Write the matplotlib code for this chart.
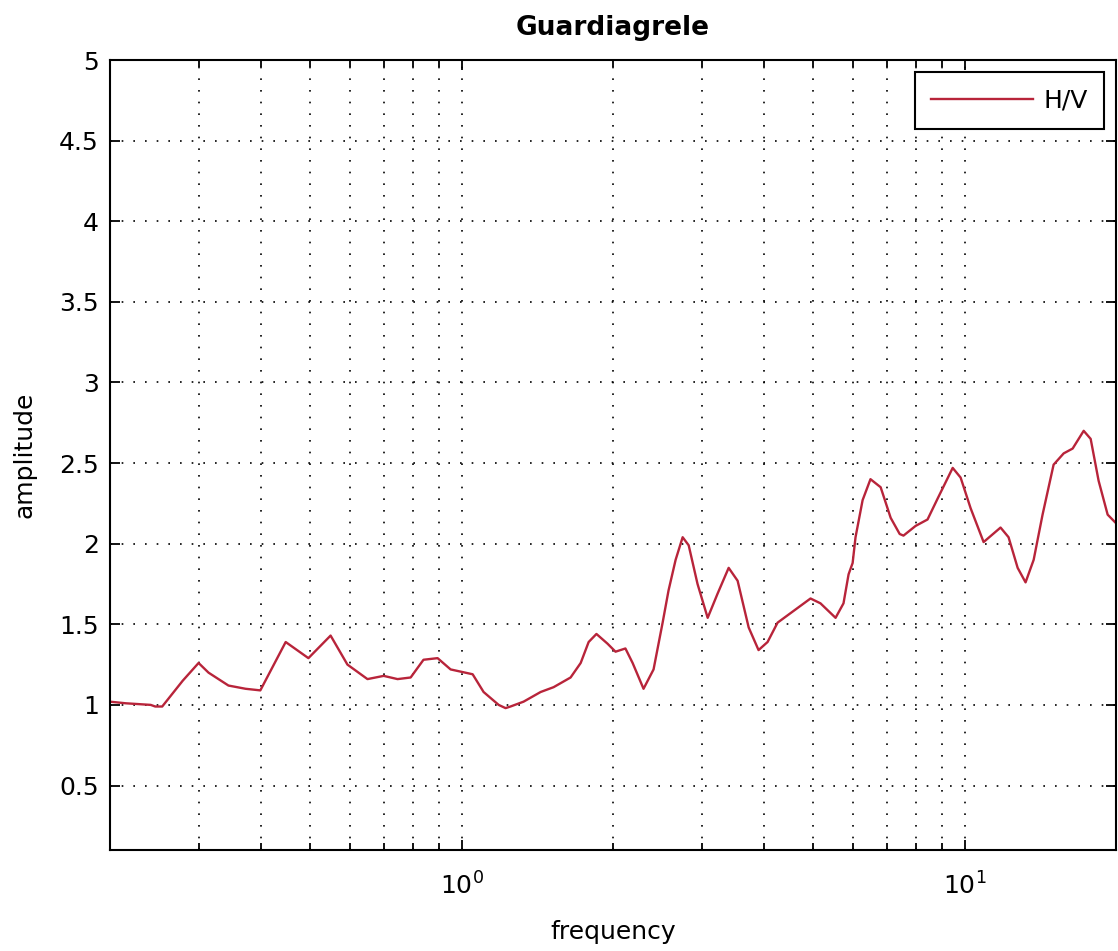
import matplotlib
matplotlib.use("Agg")
import matplotlib.pyplot as plt
from matplotlib.ticker import LogLocator, NullFormatter, MultipleLocator

fam = "DejaVu Sans"
plt.rcParams["font.family"] = [fam]
plt.rcParams["mathtext.fontset"] = "dejavusans"
plt.rcParams["mathtext.default"] = "regular"

title = "Guardiagrele"
xlabel = "frequency"
ylabel = "amplitude"
legend_label = "H/V"

freq = [0.200, 0.215, 0.241, 0.246, 0.254, 0.279, 0.300, 0.314, 0.344, 0.372,
        0.398, 0.447, 0.496, 0.549, 0.593, 0.650, 0.700, 0.746, 0.792, 0.840,
        0.896, 0.951, 1.052, 1.106, 1.185, 1.223, 1.251, 1.328, 1.436, 1.524,
        1.647, 1.725, 1.789, 1.854, 1.950, 2.023, 2.117, 2.188, 2.300, 2.408,
        2.510, 2.579, 2.664, 2.751, 2.828, 2.945, 3.085, 3.228, 3.396, 3.538,
        3.722, 3.894, 4.058, 4.248, 4.467, 4.94, 5.17, 5.54, 5.745, 5.88,
        5.99, 6.07, 6.27, 6.50, 6.81, 7.13, 7.43, 7.56, 7.99, 8.44,
        8.84, 9.47, 9.82, 10.28, 10.91, 11.79, 12.23, 12.75, 13.22, 13.72,
        14.29, 15.03, 15.74, 16.40, 17.25, 17.81, 18.47, 19.25, 19.96]
amp = [1.02, 1.01, 1.00, 0.99, 0.99, 1.15, 1.26, 1.20, 1.12, 1.10,
       1.09, 1.39, 1.29, 1.43, 1.25, 1.16, 1.18, 1.16, 1.17, 1.28,
       1.29, 1.22, 1.19, 1.08, 1.00, 0.98, 0.99, 1.02, 1.08, 1.11,
       1.17, 1.26, 1.39, 1.44, 1.38, 1.33, 1.35, 1.26, 1.10, 1.22,
       1.51, 1.71, 1.90, 2.04, 1.99, 1.75, 1.54, 1.69, 1.85, 1.77,
       1.48, 1.34, 1.39, 1.51, 1.56, 1.66, 1.63, 1.54, 1.63, 1.81,
       1.88, 2.04, 2.27, 2.40, 2.35, 2.16, 2.06, 2.05, 2.11, 2.15,
       2.28, 2.47, 2.41, 2.22, 2.01, 2.10, 2.04, 1.85, 1.76, 1.90,
       2.18, 2.49, 2.56, 2.59, 2.70, 2.65, 2.39, 2.18, 2.13]

fig = plt.figure(figsize=(11.18, 9.51), dpi=100)
ax = fig.add_axes([110/1118, 101/951, 1006/1118, 790/951])

ax.plot(freq, amp, color="#b8243a", lw=1.7, label=legend_label)
ax.set_xscale("log")
ax.set_xlim(0.2, 20)
ax.set_ylim(0.1, 5)

ax.xaxis.set_major_locator(LogLocator(base=10, numticks=10))
ax.xaxis.set_minor_locator(LogLocator(base=10, subs=range(2, 10), numticks=20))
ax.xaxis.set_minor_formatter(NullFormatter())
ax.yaxis.set_major_locator(MultipleLocator(0.5))
ax.yaxis.set_major_formatter(plt.FuncFormatter(lambda v, p: ("%g" % v) if v > 0.3 else ""))

dot = (0, (1, 6))
ax.grid(True, which="major", axis="both", color="black", lw=1.2, linestyle=dot)
ax.grid(True, which="minor", axis="x", color="black", lw=1.2, linestyle=dot)

ax.tick_params(which="both", direction="in", top=True, right=True, labelsize=18,
               width=1.3, colors="black")
ax.tick_params(which="major", length=7)
ax.tick_params(which="minor", length=5)
ax.tick_params(axis="y", which="major", pad=8)
ax.tick_params(axis="x", which="major", pad=16)
for s in ax.spines.values():
    s.set_linewidth(1.5)

ax.set_title(title, fontsize=19, fontweight="bold", pad=18)
ax.set_xlabel(xlabel, fontsize=18, labelpad=15)
ax.set_ylabel(ylabel, fontsize=18, labelpad=16)

leg = ax.legend(loc="upper right", fontsize=18, fancybox=False, framealpha=1,
                edgecolor="black", handlelength=4.1, handletextpad=0.4,
                borderaxespad=0.48, borderpad=0.65)
leg.get_frame().set_linewidth(1.5)

fig.savefig("out.png", dpi=100)
